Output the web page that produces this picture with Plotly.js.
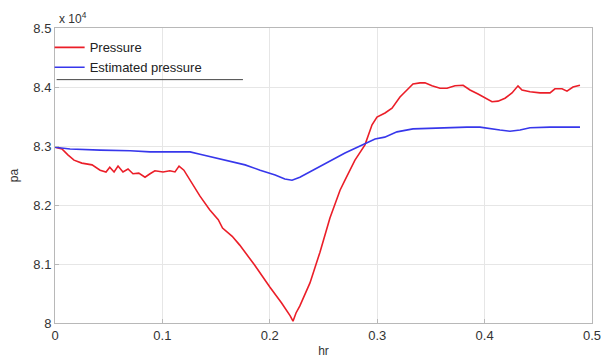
<!DOCTYPE html>
<html>
<head>
<meta charset="utf-8">
<script src="https://cdn.plot.ly/plotly-3.0.1.min.js"></script>
<style>html,body{margin:0;padding:0;background:#fff;}#chart{width:614px;height:358px;}</style>
</head>
<body>
<div id="chart"></div>
<script>
// Pressure (red), values in units of 1e4 pa, time in hr
var pressureHr = [0.000,0.0065,0.012,0.0177,0.025,0.0345,0.042,0.0475,0.051,0.055,0.0587,0.0633,0.068,0.0726,0.078,0.0838,0.0885,0.093,0.1006,0.107,0.1117,0.1155,0.12,0.1257,0.135,0.144,0.152,0.156,0.16,0.165,0.172,0.186,0.2,0.211,0.219,0.2216,0.2244,0.228,0.2374,0.2467,0.256,0.2654,0.27,0.2793,0.2886,0.2952,0.2998,0.3073,0.3138,0.3212,0.3277,0.3333,0.3399,0.3445,0.351,0.3585,0.365,0.3724,0.38,0.3864,0.3939,0.4004,0.4069,0.4125,0.419,0.4255,0.4311,0.4348,0.4423,0.4516,0.4609,0.4655,0.4721,0.4767,0.4823,0.4888];
var pressureVal = [8.298,8.295,8.285,8.276,8.271,8.268,8.259,8.256,8.264,8.256,8.266,8.256,8.261,8.253,8.254,8.247,8.253,8.258,8.256,8.258,8.256,8.266,8.259,8.242,8.215,8.192,8.175,8.161,8.154,8.147,8.132,8.098,8.061,8.034,8.012,8.003,8.017,8.029,8.068,8.120,8.178,8.225,8.242,8.276,8.302,8.336,8.349,8.356,8.364,8.383,8.395,8.405,8.407,8.407,8.402,8.398,8.398,8.402,8.403,8.395,8.388,8.381,8.375,8.376,8.381,8.390,8.402,8.395,8.392,8.390,8.390,8.397,8.397,8.393,8.400,8.403];
// Estimated pressure (blue)
var estHr = [0,0.014,0.042,0.07,0.0885,0.107,0.1257,0.135,0.149,0.163,0.177,0.191,0.205,0.214,0.2207,0.228,0.242,0.256,0.27,0.284,0.2905,0.298,0.307,0.3184,0.3333,0.3585,0.3836,0.3957,0.405,0.4143,0.4236,0.433,0.4423,0.4609,0.4888];
var estVal = [8.298,8.295,8.293,8.292,8.290,8.290,8.290,8.286,8.280,8.275,8.268,8.259,8.251,8.244,8.242,8.247,8.261,8.275,8.288,8.300,8.305,8.312,8.315,8.324,8.329,8.331,8.332,8.332,8.329,8.327,8.325,8.327,8.331,8.332,8.332];
var xTicks = [0,0.1,0.2,0.3,0.4,0.5];
var xTickText = ['0','0.1','0.2','0.3','0.4','0.5'];
var yTicks = [8,8.1,8.2,8.3,8.4,8.5];
var yTickText = ['8','8.1','8.2','8.3','8.4','8.5'];

var traces = [
  {x: pressureHr, y: pressureVal, name: 'Pressure', type: 'scatter', mode: 'lines',
   line: {color: 'rgb(235,30,40)', width: 1.6}},
  {x: estHr, y: estVal, name: 'Estimated pressure', type: 'scatter', mode: 'lines',
   line: {color: 'rgb(55,55,235)', width: 1.6}}
];
var axisCommon = {
  showline: true, linecolor: '#b8b8b8', linewidth: 1, mirror: true,
  showgrid: true, gridcolor: '#e6e6e6', gridwidth: 1,
  ticks: 'inside', ticklen: 4, tickcolor: '#b8b8b8',
  zeroline: false, tickmode: 'array',
  tickfont: {family: 'Liberation Sans, Arial, sans-serif', size: 13, color: '#333'}
};
var layout = {
  width: 614, height: 358,
  margin: {l: 55, r: 22, t: 28, b: 35},
  paper_bgcolor: '#fff', plot_bgcolor: '#fff',
  showlegend: true,
  legend: {x: -0.01, y: 0.985, xanchor: 'left', yanchor: 'top', bgcolor: 'rgba(255,255,255,0)',
    font: {family: 'Liberation Sans, Arial, sans-serif', size: 13, color: '#222'},
    itemwidth: 30, tracegroupgap: 0},
  xaxis: Object.assign({}, axisCommon, {range: [0, 0.5], tickvals: xTicks, ticktext: xTickText,
    title: {text: 'hr', standoff: 6, font: {family: 'Liberation Sans, Arial, sans-serif', size: 12, color: '#333'}}}),
  yaxis: Object.assign({}, axisCommon, {range: [8, 8.5], tickvals: yTicks, ticktext: yTickText,
    title: {text: 'pa', standoff: 12, font: {family: 'Liberation Sans, Arial, sans-serif', size: 12, color: '#333'}}}),
  shapes: [
    {type: 'line', xref: 'paper', yref: 'paper', x0: 0.003, x1: 0.35, y0: 0.825, y1: 0.825,
     line: {color: '#444', width: 1}}
  ],
  annotations: [
    {xref: 'paper', yref: 'paper', x: 0.003, y: 1.0, xanchor: 'left', yanchor: 'bottom', showarrow: false,
     text: 'x 10<sup>4</sup>', font: {family: 'Liberation Sans, Arial, sans-serif', size: 12, color: '#333'}}
  ]
};
Plotly.newPlot('chart', traces, layout, {displayModeBar: false, staticPlot: true});
</script>
</body>
</html>
